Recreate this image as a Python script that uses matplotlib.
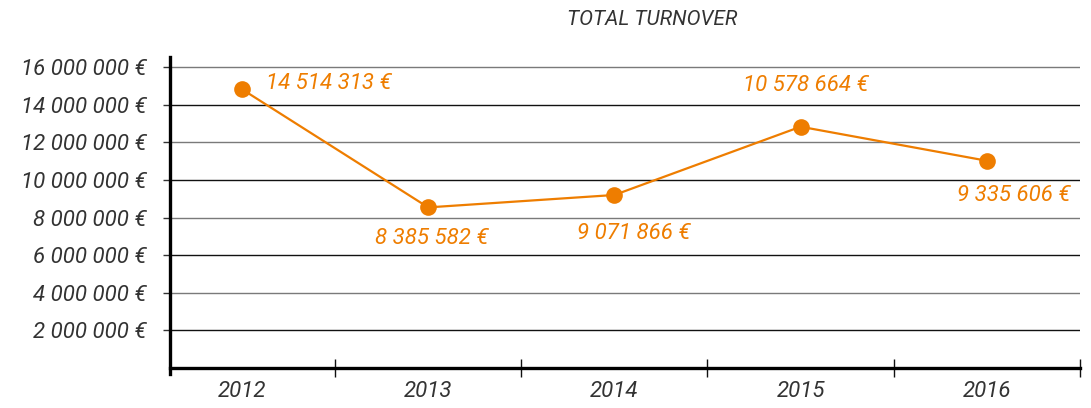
import matplotlib
matplotlib.use("Agg")
import matplotlib.pyplot as plt
from matplotlib.ticker import FuncFormatter

# data
years = ["2012", "2013", "2014", "2015", "2016"]
turnover = [14820000, 8540000, 9200000, 12830000, 11020000]  # point heights as drawn
turnover_labels = [14514313, 8385582, 9071866, 10578664, 9335606]  # printed values
y_ticks = [2000000, 4000000, 6000000, 8000000, 10000000, 12000000, 14000000, 16000000]

orange = "#ee7d00"
txt = "#333333"
plt.rcParams["font.family"] = ["Roboto", "DejaVu Sans"]


def euro(v, pos=None):
    return f"{v:,.0f}".replace(",", " ") + " €"


fig = plt.figure(figsize=(10.91, 4.08), dpi=100)
ax = fig.add_axes([0.1558, 0.098, 0.834, 0.762])

x = list(range(len(years)))
ax.set_xlim(-0.387, 4.5)
ax.set_ylim(0, 16530000)

# horizontal rules, alternating grey / black
for i, v in enumerate(y_ticks):
    col = "#7a7a7a" if i % 2 == 1 else "#111111"
    ax.axhline(v, color=col, lw=1.0, zorder=1)

ax.plot(x, turnover, color=orange, lw=1.6, marker="o", markersize=12,
        markeredgewidth=0, zorder=3, clip_on=False)

# value labels (offsets in pixels)
offsets = [(24, 6, "left"), (4, -31, "center"), (19, -39, "center"),
           (5, 41, "center"), (27, -35, "center")]
for xi, yv, lab, (dx, dy, ha) in zip(x, turnover, turnover_labels, offsets):
    ax.annotate(euro(lab), (xi, yv), xytext=(dx, dy), textcoords="offset pixels",
                ha=ha, va="center", color=orange, fontsize=16, style="italic")

# axes
for s in ["top", "right"]:
    ax.spines[s].set_visible(False)
ax.spines["left"].set_linewidth(2.4)
ax.spines["bottom"].set_linewidth(2.4)
ax.spines["left"].set_bounds(-300000, 16530000)

ax.set_yticks(y_ticks)
ax.yaxis.set_major_formatter(FuncFormatter(euro))
ax.tick_params(axis="y", length=5, width=1.0, pad=12, colors=txt, labelsize=16)
for i, t in enumerate(ax.yaxis.get_major_ticks()):
    t.tick1line.set_color("#7a7a7a" if i % 2 == 1 else "#111111")
for lab in ax.get_yticklabels():
    lab.set_fontstyle("italic")

ax.set_xticks([0.5, 1.5, 2.5, 3.5, 4.5])
ax.set_xticklabels([])
ax.tick_params(axis="x", which="major", direction="inout", length=13, width=1.0, color="#111111")
ax.set_xticks(x, minor=True)
ax.set_xticklabels(years, minor=True)
ax.tick_params(axis="x", which="minor", length=0, pad=9, labelsize=16, colors=txt)
for lab in ax.get_xticklabels(minor=True):
    lab.set_fontstyle("italic")

fig.text(0.598, 0.952, "TOTAL TURNOVER", ha="center", va="center", fontsize=15,
         style="italic", color=txt)

fig.savefig("out.png", dpi=100)
